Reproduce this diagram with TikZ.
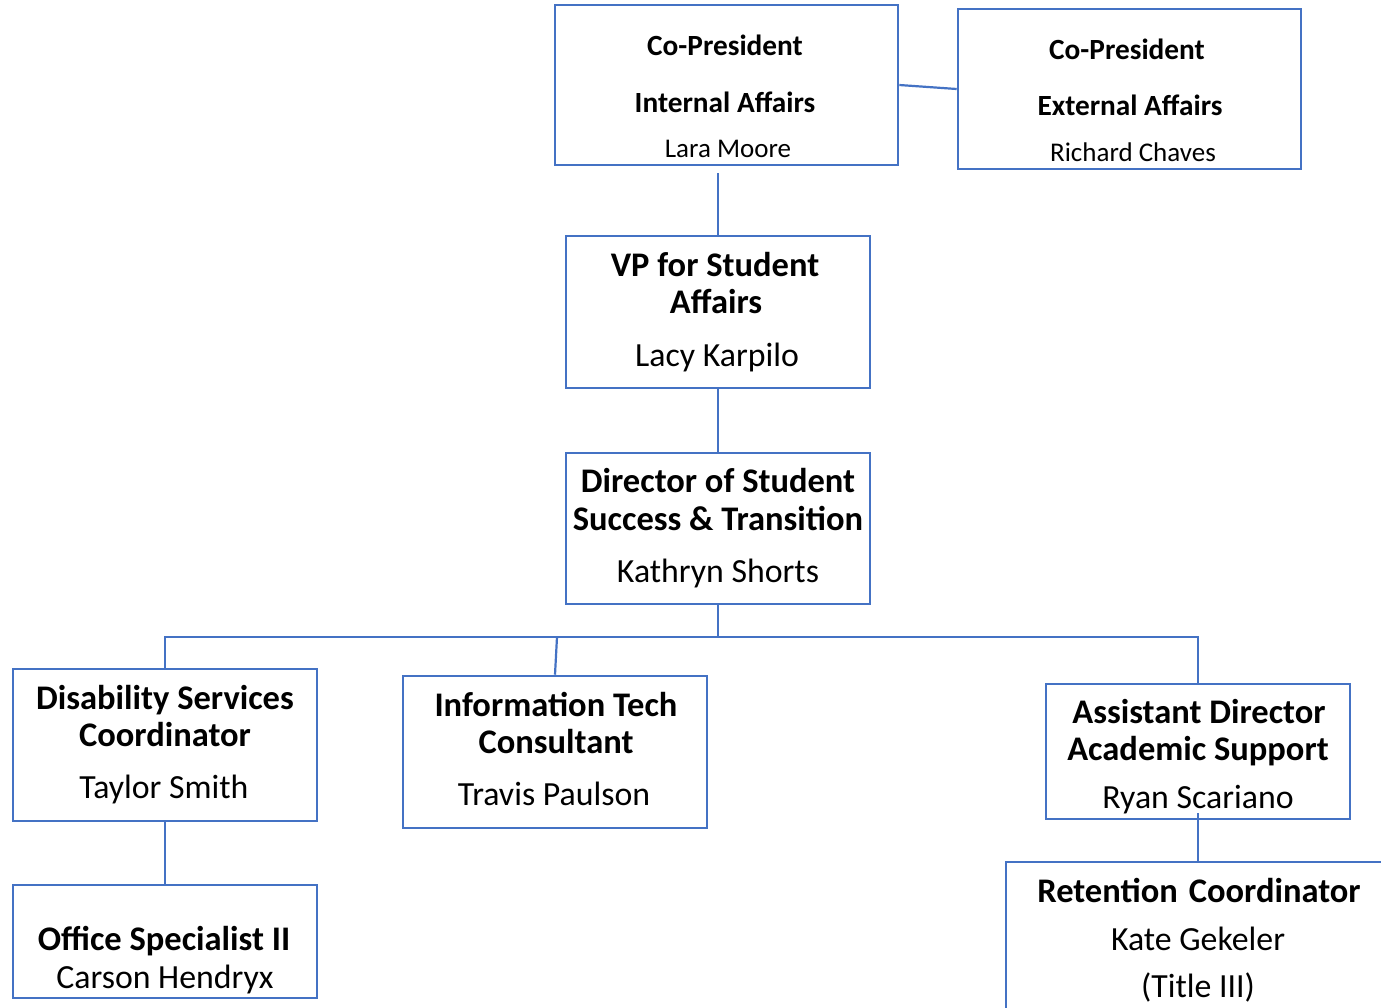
\documentclass[tikz,border=0pt]{standalone}
\usepackage{fontspec}
\setmainfont{Carlito}
\definecolor{orgblue}{HTML}{4472C4}
\tikzset{
  box/.style={draw=orgblue, line width=2.6pt, rectangle, inner sep=0pt, fill=white},
  conn/.style={draw=orgblue, line width=2.2pt},
  tb/.style={anchor=base, inner sep=0pt, font=\fontsize{34.5}{38}\selectfont\bfseries},
  tr/.style={anchor=base, inner sep=0pt, font=\fontsize{33.8}{38}\selectfont},
  stb/.style={anchor=base, inner sep=0pt, font=\fontsize{29.3}{32}\selectfont\bfseries},
  str/.style={anchor=base, inner sep=0pt, font=\fontsize{27}{31}\selectfont},
}
\begin{document}
\begin{tikzpicture}[x=1pt,y=-1pt]
\useasboundingbox (0,0) rectangle (1381,1007);
\clip (0,0) rectangle (1381,1007);
\fill[white] (0,0) rectangle (1381,1007);
% boxes
\node[box, minimum width=343pt, minimum height=160pt] (cpi) at (726.5,85) {};
\node[box, minimum width=343pt, minimum height=160pt] (cpe) at (1129.5,89) {};
\node[box, minimum width=304pt, minimum height=152pt] (vp) at (718,312) {};
\node[box, minimum width=304pt, minimum height=151pt] (dir) at (718,528.5) {};
\node[box, minimum width=304pt, minimum height=152pt] (dsc) at (165,745) {};
\node[box, minimum width=304pt, minimum height=152pt] (itc) at (555,752) {};
\node[box, minimum width=304pt, minimum height=135pt] (ada) at (1198,751.5) {};
\node[box, minimum width=304pt, minimum height=113pt] (os) at (165,941.5) {};
\node[box, minimum width=384pt, minimum height=170pt] (rc) at (1198,947) {};
% connectors
\draw[conn] (cpi.east) -- (cpe.west);
\coordinate (cpib) at (718,173);
\draw[conn] (cpib) -- (vp.north);
\draw[conn] (vp.south) -- (dir.north);
\coordinate (bus) at (718,637);
\draw[conn] (dir.south) -- (bus);
\draw[conn] (dsc.north) -- (dsc.north |- bus) -- (ada.north |- bus) -- (ada.north);
\coordinate (itct) at (557,637);
\draw[conn] (itct) -- (itc.north);
\draw[conn] (dsc.south) -- (os.north);
\coordinate (adain) at (1198,813);
\draw[conn] (adain) -- (rc.north);
% texts
\node[stb] (cpi1) at (725,55) {Co-President};
\node[stb] (cpi2) at (725,112) {Internal Affairs};
\node[str] (cpi3) at (728,157) {Lara Moore};
\node[stb] (cpe1) at (1127,59) {Co-President};
\node[stb] (cpe2) at (1130,115) {External Affairs};
\node[str] (cpe3) at (1133,161) {Richard Chaves};
\node[tb] (vp1) at (715,276) {VP for Student};
\node[tb] (vp2) at (716,313) {Affairs};
\node[tr] (vp3) at (717,366) {Lacy Karpilo};
\node[tb] (dir1) at (718,492) {Director of Student};
\node[tb] (dir2) at (718,530) {Success \& Transition};
\node[tr] (dir3) at (718,582) {Kathryn Shorts};
\node[tb] (dsc1) at (165,709) {Disability Services};
\node[tb] (dsc2) at (165,746) {Coordinator};
\node[tr] (dsc3) at (164,798) {Taylor Smith};
\node[tb] (itc1) at (556,716) {Information Tech};
\node[tb] (itc2) at (556,753) {Consultant};
\node[tr] (itc3) at (554,805) {Travis Paulson};
\node[tb] (ada1) at (1199,723) {Assistant Director};
\node[tb] (ada2) at (1198,760) {Academic Support};
\node[tr] (ada3) at (1198,808) {Ryan Scariano};
\node[tb] (os1) at (164,950) {Office Specialist II};
\node[tr] (os2) at (165,988) {Carson Hendryx};
\node[tb] (rc1) at (1199,902) {Retention\hspace{11pt}Coordinator};
\node[tr] (rc2) at (1198,950) {Kate Gekeler};
\node[tr] (rc3) at (1198,997) {(Title III)};
\end{tikzpicture}
\end{document}
